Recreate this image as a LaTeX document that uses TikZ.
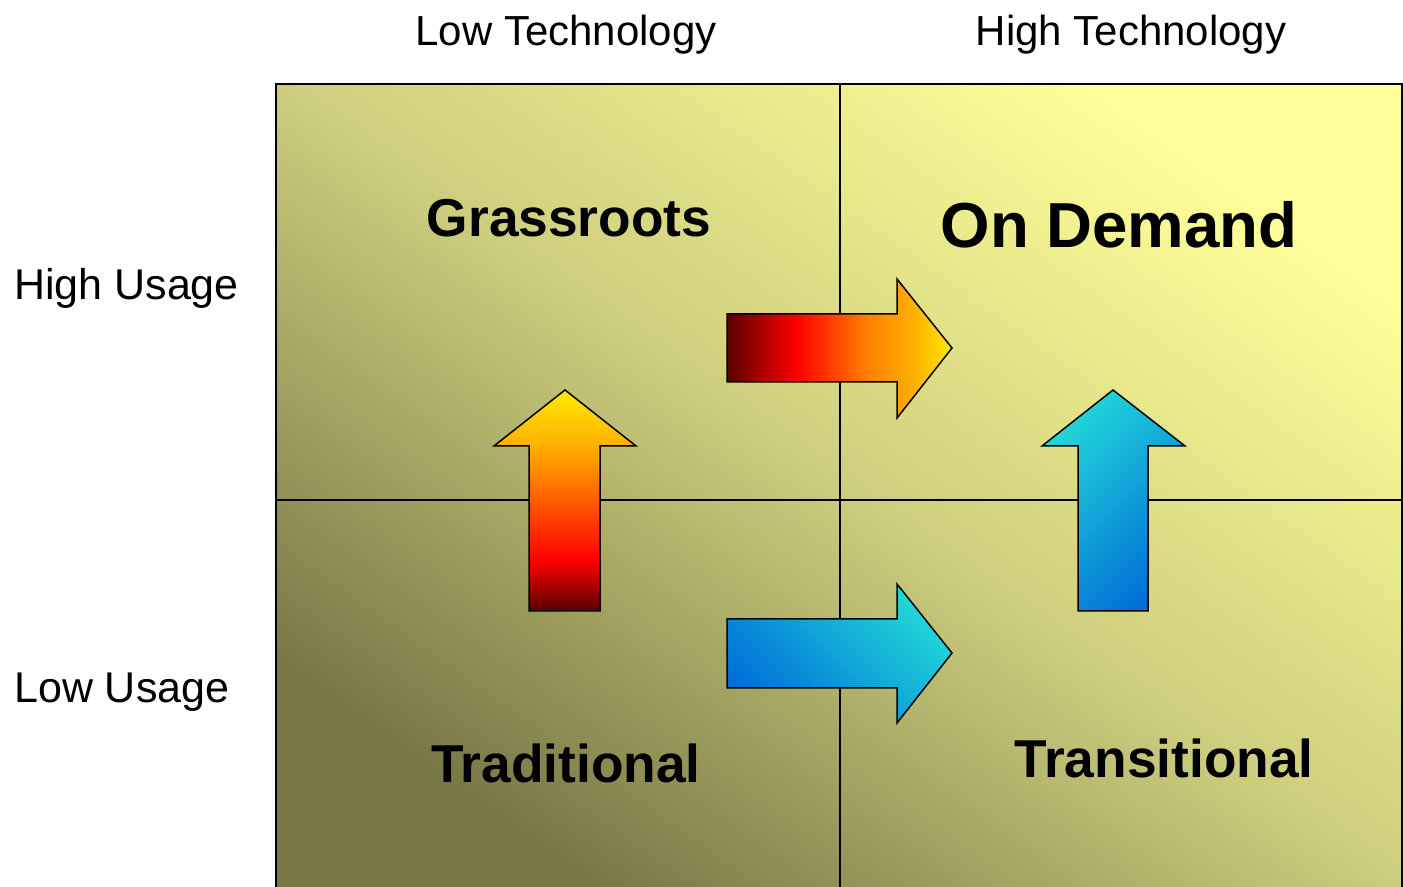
\documentclass[tikz,border=0pt]{standalone}
\usepackage{fontspec}
\setmainfont{Liberation Sans}
\usepackage{tikz}

\definecolor{oliveDark}{HTML}{787846}
\definecolor{oliveMid}{HTML}{CDCD7E}
\definecolor{paleYellow}{HTML}{FFFF99}
\definecolor{deepRed}{HTML}{5A0000}
\definecolor{hotOrange}{HTML}{FF7F00}
\definecolor{amber}{HTML}{FFB300}
\definecolor{brightYellow}{HTML}{FFEA00}
\definecolor{deepBlue}{HTML}{0070D8}
\definecolor{aqua}{HTML}{22D8D8}

\pgfdeclarehorizontalshading{warmH}{100bp}{color(0bp)=(deepRed); color(25bp)=(deepRed); color(40.5bp)=(red); color(56bp)=(hotOrange); color(67bp)=(amber); color(75bp)=(brightYellow); color(100bp)=(brightYellow)}
\pgfdeclarehorizontalshading{warmV}{100bp}{color(0bp)=(deepRed); color(25bp)=(deepRed); color(36.5bp)=(red); color(55bp)=(hotOrange); color(63bp)=(amber); color(75bp)=(brightYellow); color(100bp)=(brightYellow)}

\begin{document}
\begin{tikzpicture}[
    x=1bp, y=1bp,
    grid/.style={draw=black, line width=2bp},
    axislabel/.style={font=\fontsize{42bp}{48bp}\selectfont, inner sep=0pt, anchor=base},
    quadlabel/.style={font=\fontsize{53.3bp}{60bp}\selectfont\bfseries, inner sep=0pt, anchor=base},
    blockarrow/.style={draw=black, line width=1.5bp, line join=miter}
]
    \useasboundingbox (0,0) rectangle (1403,886);

    % quadrant background
    \shade[bottom color=oliveDark, top color=paleYellow, middle color=oliveMid, shading angle=-35.4]
        (276,0) rectangle (1402,802);
    \draw[grid] (276,-10) |- (1402,802) -- (1402,-10);
    \draw[grid] (840,-10) -- (840,802);
    \draw[grid] (276,386) -- (1402,386);

    % block arrows
    \shadedraw[blockarrow, shading=warmH]
        (727,572) -- (897,572) -- (897,607) -- (952,538) -- (897,468) -- (897,504) -- (727,504) -- cycle;
    \shadedraw[blockarrow, shading=warmV, shading angle=90]
        (529,275) -- (529,440) -- (494,440) -- (565,496) -- (636,440) -- (600,440) -- (600,275) -- cycle;
    \shadedraw[blockarrow, bottom color=deepBlue, top color=aqua, shading angle=-45]
        (727,267) -- (897,267) -- (897,302) -- (952,233) -- (897,163) -- (897,198) -- (727,198) -- cycle;
    \shadedraw[blockarrow, bottom color=deepBlue, top color=aqua, shading angle=45]
        (1078,275) -- (1078,440) -- (1042,440) -- (1113,496) -- (1185,440) -- (1148,440) -- (1148,275) -- cycle;

    % labels
    \node[axislabel] (lowtech) at (566,840) {Low Technology};
    \node[axislabel] (hightech) at (1131,840) {High Technology};
    \node[axislabel, font=\fontsize{43bp}{48bp}\selectfont, anchor=base west] (highuse) at (14,586) {High Usage};
    \node[axislabel, font=\fontsize{43bp}{48bp}\selectfont, anchor=base west] (lowuse) at (14,184) {Low Usage};

    \node[quadlabel] (grass) at (569,649) {Grassroots};
    \node[quadlabel, font=\fontsize{63.6bp}{72bp}\selectfont\bfseries] (ondemand) at (1119,638) {On Demand};
    \node[quadlabel] (trad) at (566,104) {Traditional};
    \node[quadlabel] (trans) at (1164,109) {Transitional};
\end{tikzpicture}
\end{document}
